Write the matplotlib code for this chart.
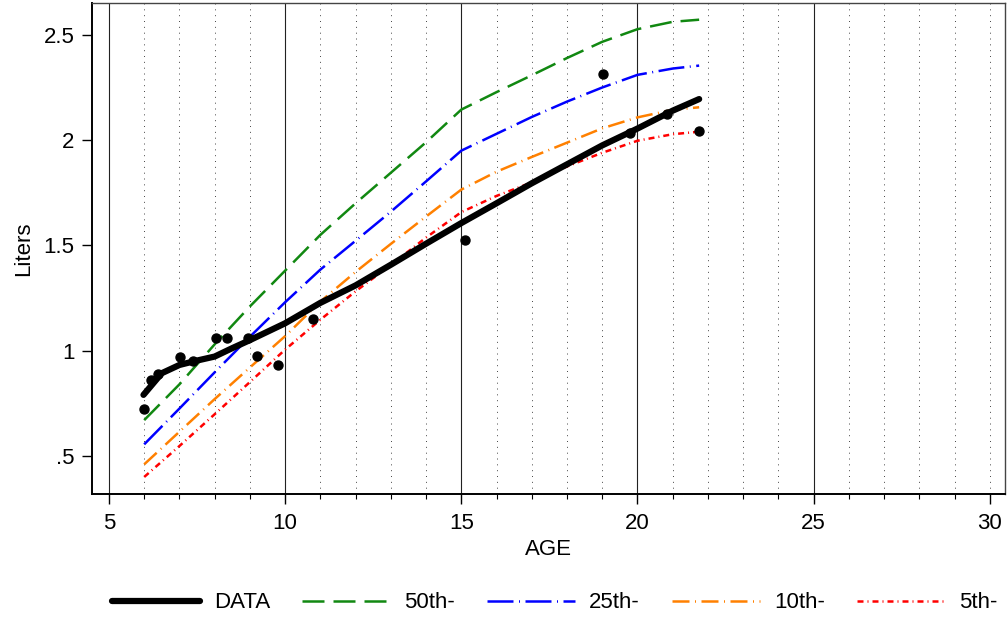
import matplotlib
matplotlib.use('Agg')
import matplotlib.pyplot as plt
from matplotlib.ticker import MultipleLocator

plt.rcParams['font.family'] = ['Liberation Sans', 'DejaVu Sans']

# observed points
pt_age = [5.985, 6.18, 6.38, 7.03, 7.38, 8.04, 8.34, 8.94, 9.19, 9.79, 10.78,
          15.10, 19.01, 19.78, 20.83, 21.74]
pt_liters = [0.723, 0.861, 0.889, 0.970, 0.951, 1.06, 1.06, 1.06, 0.975, 0.932, 1.15,
             1.526, 2.315, 2.034, 2.125, 2.044]

# fitted DATA curve
data_age = [5.98, 6.5, 7, 7.5, 8, 8.5, 9, 10, 11, 12, 13, 14, 15, 16, 17, 18, 19, 20, 21, 21.75]
data_liters = [0.79, 0.893, 0.932, 0.953, 0.972, 1.012, 1.05, 1.13, 1.227, 1.31, 1.408,
               1.508, 1.606, 1.70, 1.795, 1.885, 1.975, 2.055, 2.14, 2.195]

# reference percentiles
ref_age = [6, 7, 8, 9, 10, 11, 12, 13, 14, 15, 16, 17, 18, 19, 20, 21, 21.75]
p50 = [0.67, 0.84, 1.03, 1.21, 1.38, 1.55, 1.70, 1.845, 1.99, 2.145, 2.228, 2.308,
       2.39, 2.467, 2.527, 2.562, 2.572]
p25 = [0.555, 0.725, 0.897, 1.066, 1.23, 1.385, 1.522, 1.66, 1.804, 1.95, 2.03, 2.11,
       2.183, 2.25, 2.31, 2.34, 2.354]
p10 = [0.46, 0.615, 0.77, 0.92, 1.069, 1.233, 1.374, 1.507, 1.637, 1.765, 1.85, 1.92,
       1.988, 2.056, 2.108, 2.144, 2.156]
p5 = [0.40, 0.547, 0.698, 0.851, 1.005, 1.147, 1.282, 1.407, 1.537, 1.658, 1.735, 1.799,
      1.875, 1.94, 1.997, 2.028, 2.04]

yticks = [0.5, 1, 1.5, 2, 2.5]
ytick_labels = ['.5', '1', '1.5', '2', '2.5']

fig = plt.figure(figsize=(10.07, 6.19), dpi=100)
ax = fig.add_axes([0.0914, 0.2019, 0.9066, 0.7928])

ax.set_xlim(4.52, 30.43)
ax.set_ylim(0.319, 2.65)

# grid: solid at majors, dotted at every other year
for x in range(5, 31):
    if x % 5 == 0 and x < 30:
        ax.axvline(x, color='#222222', lw=0.8, zorder=1)
    else:
        ax.axvline(x, color='#444444', lw=0.7, ls=(0, (1, 5)), zorder=1)

ax.plot(data_age, data_liters, color='black', lw=4.5, solid_capstyle='round',
        label='DATA', zorder=4)
ax.plot(ref_age, p50, color='#118811', lw=1.8, dashes=(8.8, 3.6), label='50th-', zorder=3)
ax.plot(ref_age, p25, color='#0000ff', lw=1.8, dashes=(10.4, 2.2, 0.4, 2.2), label='25th-', zorder=3)
ax.plot(ref_age, p10, color='#ff8000', lw=1.8, dashes=(6.8, 2.2, 0.4, 2.2), label='10th-', zorder=3)
ax.plot(ref_age, p5, color='#ff0000', lw=1.8, dashes=(2.4, 1.6, 0.4, 1.6), label='5th-', zorder=3)
ax.scatter(pt_age, pt_liters, s=42, color='black', zorder=5)

ax.xaxis.set_major_locator(MultipleLocator(5))
ax.xaxis.set_minor_locator(MultipleLocator(1))
ax.set_yticks(yticks)
ax.set_yticklabels(ytick_labels)
ax.tick_params(axis='both', which='major', length=7.5, width=1, labelsize=16)
ax.tick_params(axis='x', which='major', pad=6)
ax.tick_params(axis='y', which='major', pad=5)
ax.tick_params(axis='x', which='minor', length=3.6, width=0.8)
for s in ['left', 'bottom']:
    ax.spines[s].set_linewidth(1.4)
for s in ['top', 'right']:
    ax.spines[s].set_linewidth(1.0)
    ax.spines[s].set_color('#444444')

ax.set_xlabel('AGE', fontsize=16, labelpad=4)
ax.set_ylabel('Liters', fontsize=16, labelpad=7)

fig.legend(loc='center', bbox_to_anchor=(0.551, 0.026), ncol=5, frameon=False,
           fontsize=16, handlelength=3.96, handletextpad=0.63, columnspacing=1.45)

fig.savefig('out.png', dpi=100)
